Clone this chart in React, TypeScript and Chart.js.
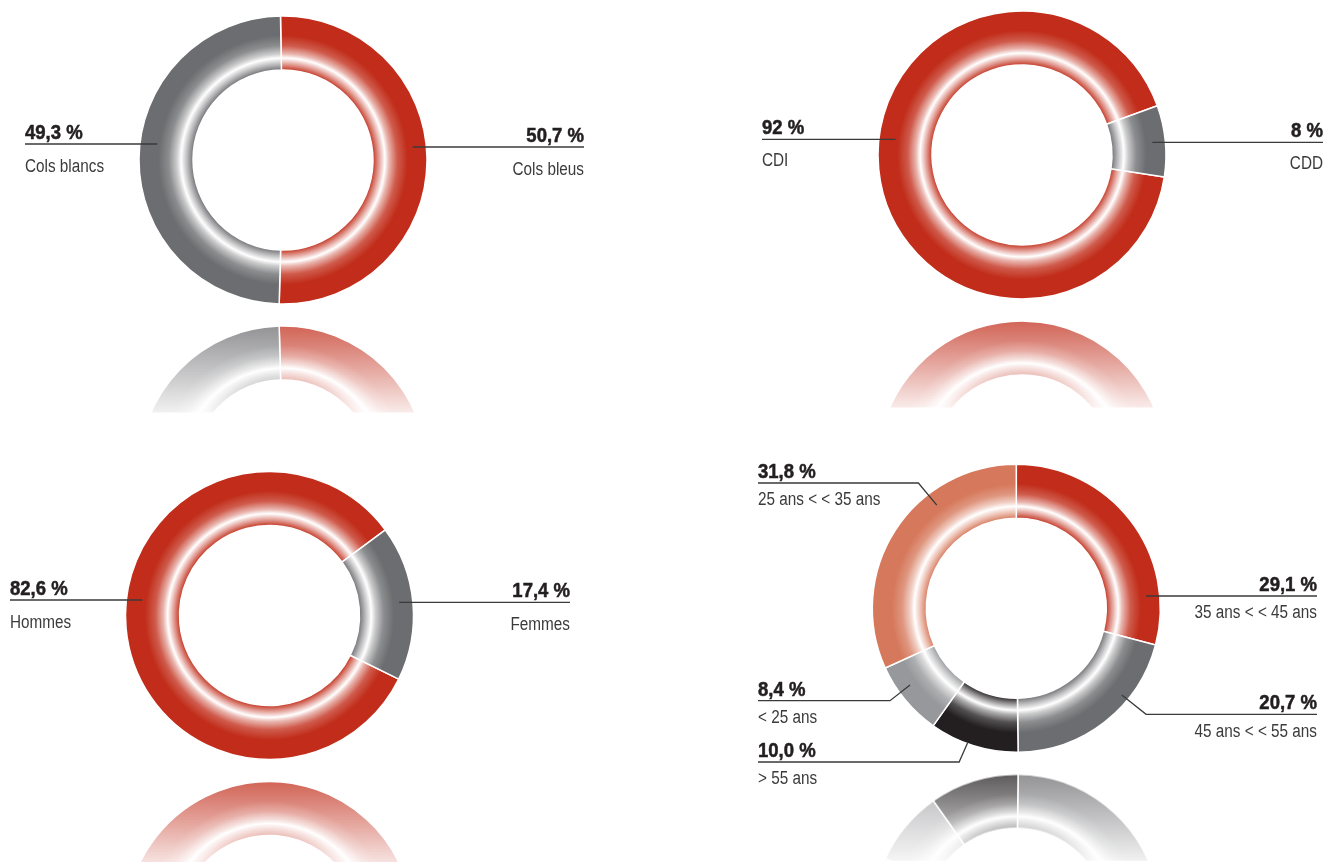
import React, { useEffect, useRef } from "react";
import { Chart, registerables } from "chart.js";

Chart.register(...registerables);

// ---------- DATA ----------
const catLabels1 = ["Cols bleus", "Cols blancs"];
const catValues1 = [50.7, 49.3];

const catLabels2 = ["CDI", "CDD"];
const catValues2 = [92, 8];

const catLabels3 = ["Hommes", "Femmes"];
const catValues3 = [82.6, 17.4];

const catLabels4 = ["35 ans < < 45 ans", "45 ans < < 55 ans", "> 55 ans", "< 25 ans", "25 ans < < 35 ans"];
const catValues4 = [29.1, 20.7, 10.0, 8.4, 31.8];

// ---------- STYLE ----------
const RED = "#c12d1a";
const GREY = "#6c6d70";
const BLACK = "#231f20";
const LGREY = "#97989b";
const SALMON = "#d6785b";

const colors1 = [RED, GREY];
const colors2 = [RED, GREY];
const colors3 = [RED, GREY];
const colors4 = [RED, GREY, BLACK, LGREY, SALMON];

const PCT_FONT = 'bold 19.5px "Liberation Sans", Arial, sans-serif';
const PCT_SCALE = 0.95;
const SUB_FONT = '18px "Liberation Sans", Arial, sans-serif';
const SUB_SCALE = 0.85;

const CW = 663;
const CH = 431;
const R = 144.75;

type LabelSpec = {
  i: number;
  side: "left" | "right";
  textX: number;
  lineY: number;
  rf: number;
  angle?: number;
  elbowDx?: number;
};

type Cfg = {
  labels: string[];
  values: number[];
  colors: string[];
  decimals: number;
  ox: number;
  oy: number;
  cx: number;
  cy: number;
  rotation: number;
  subGap: number;
  notes: LabelSpec[];
};

const charts: Cfg[] = [
  {
    labels: catLabels1, values: catValues1, colors: colors1, decimals: 1,
    ox: 0, oy: 0, cx: 283, cy: 160, rotation: -1, subGap: 27.5,
    notes: [
      { i: 1, side: "left", textX: 25, lineY: 144, rf: 0.88 },
      { i: 0, side: "right", textX: 584, lineY: 147, rf: 0.905 },
    ],
  },
  {
    labels: catLabels2, values: catValues2, colors: colors2, decimals: 0,
    ox: CW, oy: 0, cx: 1022, cy: 155, rotation: 98.8, subGap: 27,
    notes: [
      { i: 0, side: "left", textX: 762, lineY: 139.3, rf: 0.885 },
      { i: 1, side: "right", textX: 1323, lineY: 142.3, rf: 0.91 },
    ],
  },
  {
    labels: catLabels3, values: catValues3, colors: colors3, decimals: 1,
    ox: 0, oy: CH, cx: 269.5, cy: 615.5, rotation: 116.2, subGap: 27.5,
    notes: [
      { i: 0, side: "left", textX: 10, lineY: 600, rf: 0.89 },
      { i: 1, side: "right", textX: 570, lineY: 602.3, rf: 0.905 },
    ],
  },
  {
    labels: catLabels4, values: catValues4, colors: colors4, decimals: 1,
    ox: CW, oy: CH, cx: 1016.3, cy: 608.3, rotation: 0, subGap: 22.3,
    notes: [
      { i: 4, side: "left", textX: 758, lineY: 483, rf: 0.905, angle: 322.4, elbowDx: -18.4 },
      { i: 0, side: "right", textX: 1317, lineY: 596, rf: 0.905 },
      { i: 1, side: "right", textX: 1317, lineY: 714.3, rf: 0.948, angle: 129.4, elbowDx: 24.3 },
      { i: 3, side: "left", textX: 758, lineY: 700.7, rf: 0.91, angle: 234.2, elbowDx: -20 },
      { i: 2, side: "left", textX: 758, lineY: 762, rf: 0.995, angle: 199.9, elbowDx: -8.4 },
    ],
  },
];

function mix(hex: string, t: number) {
  // t=0 -> white, t=1 -> colour
  const n = parseInt(hex.slice(1), 16);
  const r = (n >> 16) & 255, g = (n >> 8) & 255, b = n & 255;
  const f = (c: number) => Math.round(255 + (c - 255) * t);
  return `rgb(${f(r)},${f(g)},${f(b)})`;
}

function fmt(v: number, d: number) {
  return v.toFixed(d).replace(".", ",") + " %";
}

function drawText(ctx: CanvasRenderingContext2D, text: string, x: number, y: number, font: string, color: string, sx: number, align: CanvasTextAlign, stroke: number) {
  ctx.save();
  ctx.font = font;
  ctx.fillStyle = color;
  ctx.strokeStyle = color;
  ctx.textAlign = align;
  ctx.textBaseline = "alphabetic";
  ctx.translate(x, y);
  ctx.scale(sx, 1);
  ctx.fillText(text, 0, 0);
  if (stroke > 0) {
    ctx.lineWidth = stroke;
    ctx.strokeText(text, 0, 0);
  }
  ctx.restore();
}

function Donut({ cfg }: { cfg: Cfg }) {
  const ref = useRef<HTMLCanvasElement>(null);

  useEffect(() => {
    const canvas = ref.current!;
    const bg = (c: any) => {
      const chart = c.chart;
      const base = cfg.colors[c.dataIndex];
      const area = chart.chartArea;
      if (!area) return base;
      const ctrl: any = chart.getDatasetMeta(0).controller;
      const outer = ctrl.outerRadius, inner = ctrl.innerRadius;
      if (!outer) return base;
      const x = (area.left + area.right) / 2;
      const y = (area.top + area.bottom) / 2;
      const g = chart.ctx.createRadialGradient(x, y, inner, x, y, outer);
      g.addColorStop(0, mix(base, 0.95));
      g.addColorStop(0.1, mix(base, 0.5));
      g.addColorStop(0.22, "#ffffff");
      g.addColorStop(0.3, mix(base, 0.35));
      g.addColorStop(0.45, mix(base, 0.78));
      g.addColorStop(0.64, base);
      g.addColorStop(1, base);
      return g;
    };

    const reflect = {
      id: "reflect",
      afterDatasetsDraw(chart: any) {
        const ctx = chart.ctx;
        const ca = chart.chartArea;
        const ctrl: any = chart.getDatasetMeta(0).controller;
        const rr = ctrl.outerRadius;
        const x = (ca.left + ca.right) / 2;
        const y = (ca.top + ca.bottom) / 2;
        const bottom = y + rr + 1;
        const H = 88, gap = 20;
        const sx = x - rr - 3, sw = 2 * rr + 6, sy = bottom - H, sh = H;
        const dpr = chart.currentDevicePixelRatio || 1;
        const axis = bottom + gap / 2;
        ctx.save();
        ctx.globalAlpha = 0.74;
        ctx.translate(0, 2 * axis);
        ctx.scale(1, -1);
        ctx.drawImage(chart.canvas, sx * dpr, sy * dpr, sw * dpr, sh * dpr, sx, sy, sw, sh);
        ctx.restore();
        const top = bottom + gap;
        const g = ctx.createLinearGradient(0, top, 0, top + H);
        g.addColorStop(0, "rgba(255,255,255,0)");
        g.addColorStop(1, "rgba(255,255,255,0.88)");
        ctx.save();
        ctx.fillStyle = g;
        ctx.fillRect(sx, top, sw, H);
        ctx.fillStyle = "#ffffff";
        ctx.fillRect(sx, top + H - 0.5, sw, 80);
        ctx.restore();
      },
    };

    const notes = {
      id: "notes",
      afterDraw(chart: any) {
        const ctx = chart.ctx;
        const ca = chart.chartArea;
        const ctrl: any = chart.getDatasetMeta(0).controller;
        const rr = ctrl.outerRadius;
        const x0 = (ca.left + ca.right) / 2;
        const y0 = (ca.top + ca.bottom) / 2;
        for (const n of cfg.notes) {
          const ly = n.lineY - cfg.oy;
          const tx = n.textX - cfg.ox;
          const r = rr * n.rf;
          let ax: number, ay: number;
          if (n.angle === undefined) {
            ay = ly;
            const dy = ly - y0;
            const dx = Math.sqrt(Math.max(r * r - dy * dy, 0));
            ax = n.side === "left" ? x0 - dx : x0 + dx;
          } else {
            const a = (n.angle * Math.PI) / 180;
            ax = x0 + r * Math.sin(a);
            ay = y0 - r * Math.cos(a);
          }
          const ex = n.elbowDx === undefined ? ax : ax + n.elbowDx;
          ctx.save();
          ctx.strokeStyle = "#3a3a3a";
          ctx.lineWidth = 1.3;
          ctx.beginPath();
          ctx.moveTo(tx, ly);
          ctx.lineTo(ex, ly);
          if (n.elbowDx !== undefined) ctx.lineTo(ax, ay);
          ctx.stroke();
          ctx.restore();

          const align: CanvasTextAlign = n.side === "left" ? "left" : "right";
          drawText(ctx, fmt(cfg.values[n.i], cfg.decimals), tx, ly - 5, PCT_FONT, "#231f20", PCT_SCALE, align, 0.5);
          drawText(ctx, cfg.labels[n.i], tx, ly + cfg.subGap, SUB_FONT, "#3b3b3b", SUB_SCALE, align, 0);
        }
      },
    };

    const chart = new Chart(canvas, {
      type: "doughnut",
      data: {
        labels: cfg.labels,
        datasets: [
          {
            data: cfg.values,
            backgroundColor: bg as any,
            borderColor: "#ffffff",
            borderWidth: 1.5,
          },
        ],
      },
      options: {
        responsive: false,
        animation: false,
        events: [],
        cutout: "62.5%",
        rotation: cfg.rotation,
        layout: {
          padding: {
            left: cfg.cx - R - cfg.ox,
            top: cfg.cy - R - cfg.oy,
            right: cfg.ox + CW - (cfg.cx + R),
            bottom: cfg.oy + CH - (cfg.cy + R),
          },
        },
        plugins: {
          legend: { display: false },
          tooltip: { enabled: false },
        },
      },
      plugins: [reflect, notes],
    });
    return () => chart.destroy();
  }, [cfg]);

  return (
    <div style={{ position: "absolute", left: cfg.ox, top: cfg.oy, width: CW, height: CH }}>
      <canvas ref={ref} width={CW} height={CH} style={{ display: "block" }} />
    </div>
  );
}

export default function App() {
  return (
    <div
      style={{
        position: "fixed",
        left: 0,
        top: 0,
        width: 1326,
        height: 862,
        background: "#ffffff",
        overflow: "hidden",
      }}
    >
      {charts.map((c, k) => (
        <Donut key={k} cfg={c} />
      ))}
    </div>
  );
}
